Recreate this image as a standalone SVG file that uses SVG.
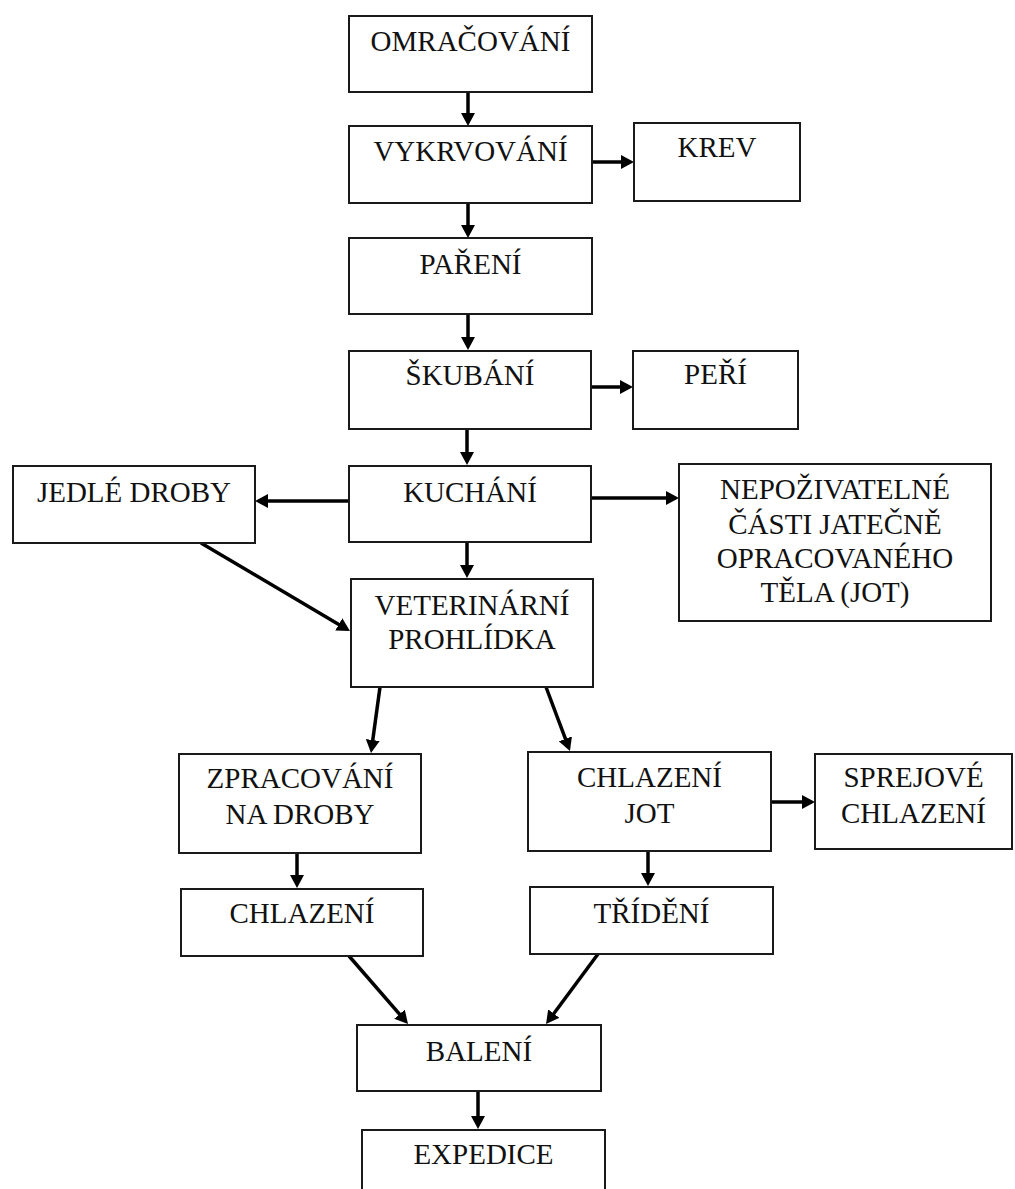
<svg xmlns="http://www.w3.org/2000/svg" width="1015" height="1189" viewBox="0 0 1015 1189">
<style>
.box{fill:#fff;stroke:#1a1a1a;stroke-width:2}
.t{font-family:"Liberation Serif","Times New Roman",serif;font-size:29px;fill:#111;text-anchor:middle}
.c{stroke:#000;stroke-width:3.5;fill:none}
</style>
<defs>
<marker id="ah" viewBox="0 0 13 14" refX="2" refY="7" markerWidth="13" markerHeight="14" markerUnits="userSpaceOnUse" orient="auto">
<path d="M0,0 L13,7 L0,14 z" fill="#000"/>
</marker>
</defs>
<rect width="1015" height="1189" fill="#fff"/>
<g id="connectors">
<line class="c" x1="468" y1="92" x2="468" y2="115" marker-end="url(#ah)"/>
<line class="c" x1="468" y1="203" x2="468" y2="227" marker-end="url(#ah)"/>
<line class="c" x1="468" y1="314" x2="468" y2="339" marker-end="url(#ah)"/>
<line class="c" x1="467" y1="429" x2="467" y2="454" marker-end="url(#ah)"/>
<line class="c" x1="467" y1="542" x2="467" y2="567" marker-end="url(#ah)"/>
<line class="c" x1="592" y1="162" x2="623" y2="162" marker-end="url(#ah)"/>
<line class="c" x1="591" y1="387" x2="622" y2="387" marker-end="url(#ah)"/>
<line class="c" x1="349" y1="501" x2="266" y2="501" marker-end="url(#ah)"/>
<line class="c" x1="591" y1="498" x2="668" y2="498" marker-end="url(#ah)"/>
<line class="c" x1="201" y1="543" x2="340.5" y2="625.4" marker-end="url(#ah)"/>
<line class="c" x1="380" y1="687" x2="372.5" y2="742" marker-end="url(#ah)"/>
<line class="c" x1="546" y1="687" x2="566.1" y2="740.7" marker-end="url(#ah)"/>
<line class="c" x1="771" y1="802" x2="804" y2="802" marker-end="url(#ah)"/>
<line class="c" x1="297" y1="853" x2="297" y2="877" marker-end="url(#ah)"/>
<line class="c" x1="648" y1="851" x2="648" y2="875" marker-end="url(#ah)"/>
<line class="c" x1="349" y1="956" x2="400.8" y2="1015.7" marker-end="url(#ah)"/>
<line class="c" x1="598" y1="954" x2="552.6" y2="1015.2" marker-end="url(#ah)"/>
<line class="c" x1="478" y1="1091" x2="478" y2="1118" marker-end="url(#ah)"/>
</g>
<g id="omracovani"><rect class="box" x="349" y="16" width="243" height="76"/><text class="t" x="470.5" y="51">OMRAČOVÁNÍ</text></g>
<g id="vykrvovani"><rect class="box" x="349" y="126" width="243" height="77"/><text class="t" x="470.5" y="161">VYKRVOVÁNÍ</text></g>
<g id="krev"><rect class="box" x="634" y="123" width="166" height="78"/><text class="t" x="717" y="157">KREV</text></g>
<g id="pareni"><rect class="box" x="349" y="238" width="243" height="76"/><text class="t" x="470.5" y="274">PAŘENÍ</text></g>
<g id="skubani"><rect class="box" x="349" y="351" width="242" height="78"/><text class="t" x="470" y="385">ŠKUBÁNÍ</text></g>
<g id="peri"><rect class="box" x="633" y="351" width="165" height="78"/><text class="t" x="715.5" y="384">PEŘÍ</text></g>
<g id="kuchani"><rect class="box" x="349" y="466" width="242" height="76"/><text class="t" x="470" y="502">KUCHÁNÍ</text></g>
<g id="jedle-droby"><rect class="box" x="13" y="466" width="242" height="77"/><text class="t" x="134" y="502">JEDLÉ DROBY</text></g>
<g id="nepozivatelne"><rect class="box" x="679" y="464" width="312" height="157"/><text class="t" x="835" y="499">NEPOŽIVATELNÉ</text><text class="t" x="835" y="534">ČÁSTI JATEČNĚ</text><text class="t" x="835" y="568">OPRACOVANÉHO</text><text class="t" x="835" y="602">TĚLA (JOT)</text></g>
<g id="veterinarni"><rect class="box" x="351" y="579" width="242" height="108"/><text class="t" x="472" y="615">VETERINÁRNÍ</text><text class="t" x="472" y="649">PROHLÍDKA</text></g>
<g id="zpracovani"><rect class="box" x="179" y="754" width="242" height="99"/><text class="t" x="300" y="788">ZPRACOVÁNÍ</text><text class="t" x="300" y="824">NA DROBY</text></g>
<g id="chlazeni-jot"><rect class="box" x="528" y="752" width="243" height="99"/><text class="t" x="649.5" y="787">CHLAZENÍ</text><text class="t" x="649.5" y="823">JOT</text></g>
<g id="sprejove"><rect class="box" x="815" y="754" width="197" height="95"/><text class="t" x="913.5" y="787">SPREJOVÉ</text><text class="t" x="913.5" y="823">CHLAZENÍ</text></g>
<g id="chlazeni"><rect class="box" x="181" y="889" width="242" height="67"/><text class="t" x="302" y="923">CHLAZENÍ</text></g>
<g id="trideni"><rect class="box" x="530" y="887" width="243" height="67"/><text class="t" x="651.5" y="923">TŘÍDĚNÍ</text></g>
<g id="baleni"><rect class="box" x="357" y="1025" width="244" height="66"/><text class="t" x="479" y="1061">BALENÍ</text></g>
<g id="expedice"><rect class="box" x="362" y="1130" width="243" height="70"/><text class="t" x="483.5" y="1164">EXPEDICE</text></g>
</svg>
